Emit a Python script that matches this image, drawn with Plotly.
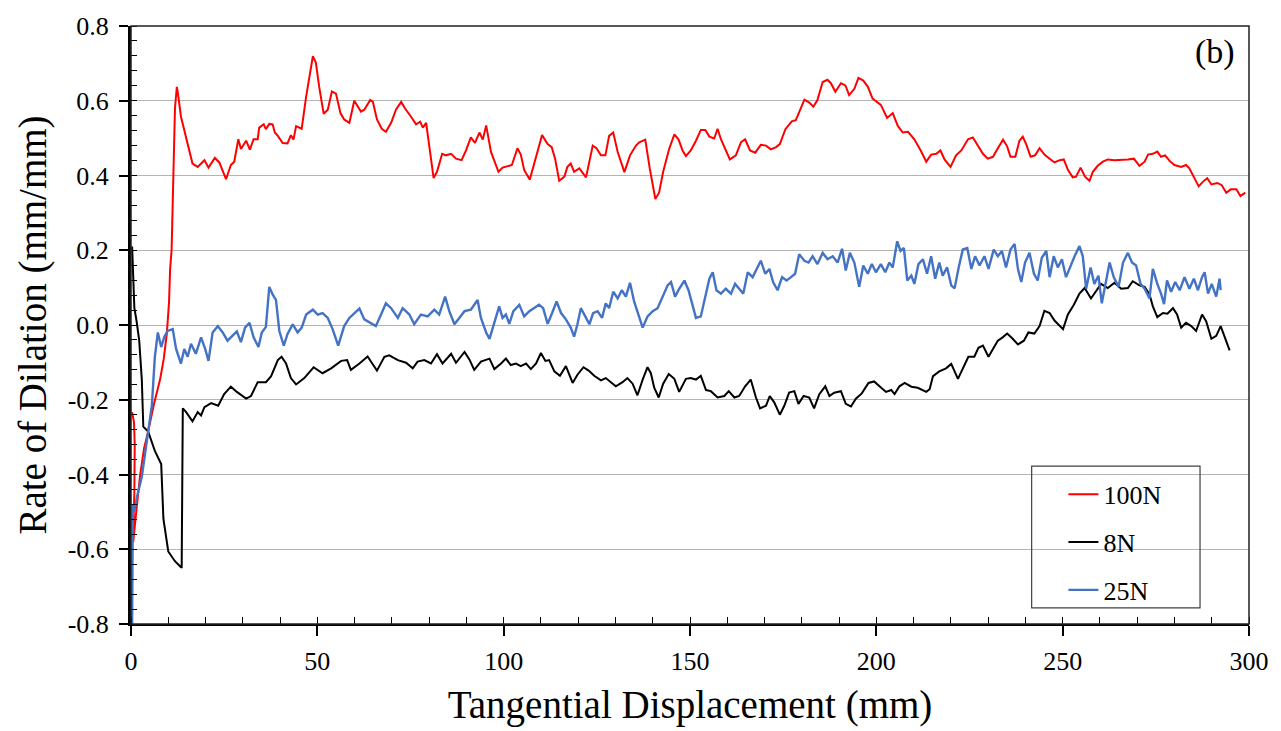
import plotly.graph_objects as go

# ---- data: rate of dilation vs tangential displacement ----
x_100N = [0.3, 0.8, 1.0, 0.9, 0.6, 0.6, 1.2, 2.4, 3.5, 4.6, 6.2, 7.8, 8.8, 9.6, 10.2, 10.5, 10.9,
          11.2, 11.5, 11.8, 12.3, 12.6, 13.4, 14.1, 15.4, 16.5, 17.9, 19.7, 20.8, 22.5, 23.7, 25.5,
          26.8, 27.7, 28.8, 29.5, 30.9, 31.9, 32.9, 34.0, 34.4, 35.6, 36.2, 37.1, 38.0, 38.6, 39.4,
          40.7, 42.0, 42.9, 43.6, 44.3, 45.8, 47.0, 48.8, 49.6, 50.5, 51.7, 52.8, 53.9, 55.0, 56.2,
          57.2, 58.6, 59.9, 61.7, 62.6, 64.2, 64.9, 66.0, 67.3, 68.4, 69.8, 71.1, 72.5, 73.5, 75.1,
          76.5, 77.6, 78.3, 79.2, 80.1, 81.2, 82.1, 83.5, 84.5, 85.9, 87.2, 88.7, 89.9, 91.2, 92.3,
          93.5, 94.4, 95.3, 96.6, 97.5, 98.6, 99.7, 100.6, 102.2, 103.7, 104.6, 105.5, 107.0, 108.2,
          109.4, 110.3, 111.8, 112.9, 113.8, 114.9, 116.3, 117.1, 118.0, 118.9, 120.3, 122.1, 123.9,
          124.9, 126.1, 127.3, 128.3, 129.4, 130.6, 132.4, 133.9, 135.5, 136.4, 138.0, 139.2, 140.7,
          141.7, 142.8, 144.4, 145.8, 146.9, 148.0, 148.9, 150.2, 151.6, 152.9, 154.1, 155.2, 156.5,
          157.4, 158.3, 159.5, 160.7, 162.3, 163.7, 164.8, 166.1, 167.5, 169.0, 170.4, 171.7, 173.1,
          174.1, 175.6, 177.3, 178.4, 179.5, 180.7, 182.0, 183.1, 184.2, 185.6, 186.9, 187.8, 189.0,
          190.5, 191.7, 192.7, 194.1, 195.2, 196.5, 197.7, 199.0, 201.2, 202.9, 204.4, 205.8, 207.1,
          208.5, 210.2, 211.9, 213.4, 214.7, 216.1, 217.2, 218.3, 219.9, 221.4, 222.8, 224.6, 225.9,
          227.2, 228.6, 229.9, 231.3, 232.8, 234.0, 235.1, 236.0, 237.3, 238.4, 239.3, 240.2, 241.4,
          242.6, 243.8, 245.1, 246.5, 247.8, 249.2, 250.3, 251.4, 252.7, 253.6, 254.8, 256.0, 257.2,
          258.1, 259.4, 260.8, 262.1, 263.9, 265.7, 267.5, 269.1, 270.6, 272.0, 272.9, 274.2, 275.4,
          276.4, 277.5, 278.7, 280.0, 281.8, 283.1, 284.0, 285.4, 286.5, 287.6, 288.8, 289.9, 291.5,
          292.7, 293.9, 295.1, 296.6, 297.7, 299.0]
y_100N = [-0.233, -0.26, -0.32, -0.45, -0.55, -0.58, -0.52, -0.406, -0.33, -0.285, -0.21, -0.146,
          -0.09, -0.024, 0.06, 0.15, 0.202, 0.306, 0.45, 0.58, 0.637, 0.62, 0.558, 0.528, 0.476,
          0.432, 0.423, 0.441, 0.421, 0.447, 0.435, 0.390, 0.428, 0.437, 0.497, 0.471, 0.493, 0.469,
          0.497, 0.497, 0.528, 0.537, 0.524, 0.538, 0.537, 0.515, 0.506, 0.487, 0.486, 0.508, 0.496,
          0.532, 0.525, 0.611, 0.719, 0.702, 0.637, 0.565, 0.576, 0.625, 0.619, 0.567, 0.550, 0.541,
          0.600, 0.571, 0.576, 0.602, 0.597, 0.550, 0.525, 0.517, 0.541, 0.576, 0.597, 0.580, 0.558,
          0.537, 0.544, 0.528, 0.541, 0.480, 0.393, 0.410, 0.458, 0.454, 0.458, 0.445, 0.441, 0.467,
          0.502, 0.487, 0.515, 0.496, 0.534, 0.463, 0.441, 0.410, 0.421, 0.423, 0.428, 0.473, 0.456,
          0.415, 0.389, 0.432, 0.476, 0.508, 0.484, 0.476, 0.445, 0.386, 0.397, 0.423, 0.432, 0.410,
          0.419, 0.395, 0.480, 0.473, 0.454, 0.454, 0.506, 0.515, 0.463, 0.409, 0.454, 0.480, 0.489,
          0.496, 0.419, 0.337, 0.354, 0.410, 0.471, 0.510, 0.497, 0.467, 0.452, 0.467, 0.493, 0.522,
          0.522, 0.504, 0.499, 0.525, 0.497, 0.471, 0.443, 0.454, 0.489, 0.497, 0.467, 0.461, 0.482,
          0.480, 0.470, 0.476, 0.484, 0.524, 0.545, 0.548, 0.576, 0.603, 0.595, 0.584, 0.602, 0.650,
          0.656, 0.647, 0.624, 0.647, 0.641, 0.615, 0.632, 0.661, 0.654, 0.638, 0.606, 0.589, 0.554,
          0.567, 0.532, 0.515, 0.517, 0.497, 0.467, 0.437, 0.456, 0.458, 0.467, 0.443, 0.423, 0.454,
          0.467, 0.497, 0.502, 0.480, 0.458, 0.445, 0.450, 0.476, 0.496, 0.478, 0.450, 0.450, 0.493,
          0.504, 0.484, 0.450, 0.454, 0.473, 0.456, 0.445, 0.435, 0.441, 0.443, 0.415, 0.395, 0.397,
          0.421, 0.397, 0.386, 0.410, 0.426, 0.437, 0.443, 0.441, 0.441, 0.443, 0.445, 0.426, 0.437,
          0.456, 0.458, 0.464, 0.450, 0.454, 0.439, 0.428, 0.423, 0.428, 0.419, 0.393, 0.371, 0.383,
          0.393, 0.376, 0.380, 0.374, 0.354, 0.363, 0.363, 0.345, 0.354]

x_8N = [0.3, 0.6, 0.9, 1.5, 2.2, 2.9, 3.3, 4.6, 6.4, 8.1, 8.7, 10.0, 11.8, 13.4, 13.6, 13.9, 14.8,
        16.5, 17.9, 18.8, 19.7, 21.5, 23.4, 25.0, 26.8, 28.4, 30.9, 32.2, 34.0, 36.2, 37.6, 39.4,
        40.4, 41.6, 42.9, 44.3, 46.5, 49.0, 51.4, 53.7, 56.4, 58.0, 59.0, 61.3, 63.5, 64.6, 66.0,
        68.0, 69.3, 71.6, 73.8, 75.6, 76.9, 78.7, 80.5, 82.1, 83.6, 85.9, 87.2, 89.5, 90.8, 92.1,
        93.9, 96.2, 97.5, 99.3, 100.6, 101.9, 103.3, 104.6, 106.0, 107.3, 108.7, 110.0, 111.2,
        112.2, 113.6, 115.1, 116.7, 118.5, 119.8, 121.4, 122.8, 124.3, 126.1, 127.4, 130.1, 131.9,
        133.2, 134.6, 135.9, 137.3, 138.6, 139.5, 140.4, 141.6, 142.8, 144.3, 145.8, 147.1, 148.9,
        150.2, 151.6, 152.9, 154.3, 155.6, 157.4, 159.2, 160.4, 161.9, 163.2, 164.8, 166.3, 167.7,
        168.8, 170.4, 171.4, 172.6, 174.1, 175.3, 176.6, 178.0, 179.1, 180.5, 182.0, 183.3, 184.7,
        186.3, 187.4, 188.7, 190.5, 191.8, 193.2, 194.5, 196.1, 197.9, 199.4, 201.3, 202.6, 204.0,
        204.9, 206.2, 207.6, 209.4, 211.1, 213.4, 214.3, 215.2, 216.9, 218.7, 220.1, 221.9, 223.2,
        224.7, 226.3, 227.4, 228.6, 230.1, 231.3, 232.6, 233.9, 235.1, 236.4, 238.0, 239.6, 240.8,
        242.4, 243.8, 245.1, 246.5, 247.8, 250.1, 251.4, 253.0, 254.5, 255.9, 257.6, 259.0, 260.3,
        262.1, 263.9, 265.7, 267.5, 268.8, 270.6, 272.0, 273.3, 274.2, 275.4, 276.9, 278.1, 279.6,
        280.7, 281.8, 283.1, 284.5, 285.8, 287.4, 288.5, 289.9, 291.2, 292.4, 293.4, 294.8]
y_8N = [0.21, 0.13, 0.046, 0.01, -0.041, -0.146, -0.272, -0.285, -0.337, -0.372, -0.519, -0.606,
        -0.632, -0.648, -0.648, -0.223, -0.233, -0.258, -0.233, -0.242, -0.220, -0.209, -0.216,
        -0.185, -0.165, -0.179, -0.197, -0.190, -0.153, -0.153, -0.137, -0.094, -0.085, -0.103,
        -0.142, -0.159, -0.142, -0.113, -0.129, -0.116, -0.096, -0.094, -0.120, -0.103, -0.084,
        -0.101, -0.122, -0.085, -0.081, -0.094, -0.101, -0.116, -0.098, -0.094, -0.103, -0.078,
        -0.103, -0.077, -0.101, -0.072, -0.092, -0.120, -0.098, -0.090, -0.118, -0.103, -0.090,
        -0.107, -0.103, -0.110, -0.103, -0.118, -0.103, -0.075, -0.096, -0.094, -0.124, -0.136,
        -0.110, -0.155, -0.133, -0.113, -0.122, -0.136, -0.148, -0.142, -0.164, -0.153, -0.142,
        -0.157, -0.188, -0.146, -0.113, -0.129, -0.168, -0.194, -0.157, -0.131, -0.144, -0.179,
        -0.144, -0.142, -0.146, -0.136, -0.174, -0.177, -0.194, -0.190, -0.177, -0.194, -0.190,
        -0.164, -0.146, -0.194, -0.223, -0.216, -0.190, -0.207, -0.240, -0.216, -0.181, -0.177,
        -0.211, -0.190, -0.194, -0.223, -0.185, -0.164, -0.190, -0.181, -0.177, -0.211, -0.218,
        -0.197, -0.183, -0.155, -0.151, -0.168, -0.179, -0.174, -0.185, -0.164, -0.155, -0.165,
        -0.168, -0.179, -0.172, -0.137, -0.124, -0.116, -0.104, -0.144, -0.116, -0.085, -0.085,
        -0.061, -0.055, -0.085, -0.064, -0.042, -0.033, -0.023, -0.035, -0.052, -0.042, -0.020,
        -0.023, -0.003, 0.038, 0.032, 0.012, -0.011, 0.028, 0.054, 0.084, 0.099, 0.071, 0.093,
        0.110, 0.099, 0.113, 0.097, 0.099, 0.117, 0.106, 0.102, 0.082, 0.050, 0.021, 0.032, 0.030,
        0.045, 0.028, -0.007, 0.006, -0.003, -0.016, 0.028, 0.010, -0.037, -0.029, -0.003, -0.029,
        -0.068]

x_25N = [0.3, 0.3, 0.3, 0.5, 0.9, 1.6, 2.9, 4.2, 5.6, 6.4, 7.1, 7.2, 8.1, 8.9, 9.8, 11.2, 12.1,
         13.4, 14.3, 15.2, 16.1, 17.4, 18.8, 19.9, 20.8, 21.9, 23.3, 24.6, 25.9, 27.3, 28.4, 29.5,
         30.6, 31.8, 32.9, 34.2, 35.1, 36.2, 37.1, 38.0, 38.9, 39.8, 41.0, 42.0, 43.4, 44.7, 45.8,
         47.0, 48.8, 50.1, 51.4, 52.8, 54.1, 55.6, 57.2, 58.6, 59.9, 61.3, 62.6, 64.2, 65.7, 67.1,
         68.4, 69.8, 71.6, 72.9, 74.7, 76.0, 77.8, 79.6, 81.4, 82.7, 84.3, 85.4, 86.8, 88.1, 89.5,
         91.2, 93.0, 93.9, 95.3, 96.2, 97.5, 98.8, 99.7, 100.6, 101.5, 102.6, 104.2, 105.5, 106.9,
         108.2, 109.5, 110.6, 111.8, 113.0, 114.2, 115.4, 116.7, 118.0, 118.9, 119.8, 120.7, 121.9,
         123.0, 124.0, 125.2, 126.4, 127.4, 128.3, 129.4, 130.6, 131.7, 132.8, 133.9, 135.0, 136.2,
         137.3, 138.6, 140.0, 141.3, 142.6, 144.0, 144.9, 146.0, 147.1, 148.5, 149.6, 150.7, 151.6,
         152.9, 154.1, 155.2, 156.1, 157.1, 158.3, 159.6, 161.0, 162.1, 163.2, 164.3, 165.5, 166.8,
         167.9, 169.0, 170.2, 171.3, 172.3, 173.5, 174.7, 175.9, 177.1, 178.2, 179.3, 180.7, 181.8,
         182.9, 184.2, 185.6, 186.9, 188.3, 189.6, 190.8, 191.8, 192.9, 194.1, 195.4, 196.5, 197.7,
         198.8, 199.9, 201.2, 202.4, 203.5, 204.4, 205.6, 206.5, 207.4, 208.3, 209.4, 210.2, 211.3,
         212.5, 213.6, 214.7, 215.8, 216.9, 217.8, 219.0, 220.1, 221.0, 222.1, 223.2, 224.4, 225.5,
         226.5, 227.7, 229.0, 230.1, 231.5, 232.6, 233.7, 234.8, 236.0, 237.1, 238.0, 238.9, 239.9,
         241.1, 242.3, 243.3, 244.4, 245.6, 246.5, 247.6, 248.7, 249.8, 250.9, 252.1, 253.2, 254.5,
         255.4, 256.3, 257.5, 258.5, 259.6, 260.5, 261.4, 262.6, 263.7, 265.0, 266.2, 267.5, 268.6,
         269.7, 270.9, 272.0, 273.3, 274.2, 275.4, 276.4, 277.2, 278.0, 279.1, 280.2, 281.4, 282.7,
         284.0, 285.2, 286.3, 287.4, 288.1, 289.0, 290.0, 291.2, 292.1, 292.4]
y_25N = [-0.80, -0.65, -0.493, -0.48, -0.50, -0.46, -0.406, -0.311, -0.215, -0.085, -0.024, -0.020,
         -0.059, -0.033, -0.016, -0.011, -0.064, -0.103, -0.064, -0.085, -0.050, -0.077, -0.033,
         -0.064, -0.096, -0.020, -0.003, -0.020, -0.042, -0.029, -0.017, -0.046, -0.007, 0.006,
         -0.033, -0.059, -0.020, -0.005, 0.102, 0.082, 0.067, -0.016, -0.055, -0.024, 0.002, -0.020,
         -0.007, 0.028, 0.041, 0.028, 0.032, 0.019, -0.011, -0.055, -0.003, 0.019, 0.032, 0.044,
         0.015, 0.006, -0.003, 0.028, 0.058, 0.045, 0.019, 0.045, 0.028, 0.002, 0.028, 0.023, 0.041,
         0.028, 0.076, 0.037, 0.002, 0.019, 0.037, 0.041, 0.067, 0.019, -0.020, -0.037, 0.010, 0.050,
         0.019, 0.028, 0.003, 0.037, 0.054, 0.023, 0.037, 0.045, 0.054, 0.045, 0.003, 0.032, 0.063,
         0.032, 0.015, -0.007, -0.031, 0.002, 0.045, 0.023, 0.002, 0.032, 0.037, 0.019, 0.058, 0.045,
         0.089, 0.071, 0.093, 0.076, 0.113, 0.063, 0.028, -0.007, 0.023, 0.037, 0.045, 0.076, 0.106,
         0.115, 0.076, 0.097, 0.119, 0.093, 0.054, 0.019, 0.023, 0.080, 0.124, 0.141, 0.093, 0.084,
         0.097, 0.084, 0.110, 0.097, 0.084, 0.141, 0.128, 0.150, 0.172, 0.137, 0.150, 0.115, 0.093,
         0.128, 0.119, 0.128, 0.137, 0.189, 0.172, 0.167, 0.184, 0.163, 0.193, 0.176, 0.184, 0.167,
         0.204, 0.146, 0.193, 0.167, 0.102, 0.159, 0.137, 0.163, 0.141, 0.163, 0.141, 0.167, 0.154,
         0.224, 0.198, 0.206, 0.119, 0.132, 0.110, 0.163, 0.176, 0.137, 0.184, 0.124, 0.167, 0.132,
         0.154, 0.106, 0.098, 0.154, 0.202, 0.206, 0.150, 0.184, 0.159, 0.184, 0.150, 0.202, 0.184,
         0.198, 0.154, 0.202, 0.217, 0.150, 0.115, 0.167, 0.193, 0.137, 0.119, 0.180, 0.198, 0.128,
         0.184, 0.154, 0.176, 0.128, 0.159, 0.184, 0.211, 0.184, 0.097, 0.154, 0.110, 0.132, 0.058,
         0.106, 0.167, 0.128, 0.102, 0.167, 0.193, 0.167, 0.159, 0.110, 0.097, 0.071, 0.150, 0.110,
         0.084, 0.056, 0.119, 0.089, 0.115, 0.093, 0.128, 0.097, 0.124, 0.093, 0.128, 0.141, 0.084,
         0.110, 0.076, 0.124, 0.093]

x_ticks = [0, 50, 100, 150, 200, 250, 300]
y_ticks = [-0.8, -0.6, -0.4, -0.2, 0.0, 0.2, 0.4, 0.6, 0.8]
y_tick_text = ["-0.8", "-0.6", "-0.4", "-0.2", "0.0", "0.2", "0.4", "0.6", "0.8"]

FONT = "Liberation Serif"


def serif(size):
    return dict(family=FONT, size=size, color="black")


fig = go.Figure()
fig.add_trace(go.Scatter(x=x_100N, y=y_100N, mode="lines", name="100N",
                         line=dict(color="#ff0000", width=2), legendgroup="a"))
fig.add_trace(go.Scatter(x=x_8N, y=y_8N, mode="lines", name="8N",
                         line=dict(color="#000000", width=2), legendgroup="b"))
fig.add_trace(go.Scatter(x=x_25N, y=y_25N, mode="lines", name="25N",
                         line=dict(color="#4472c4", width=2.4), legendgroup="c"))

fig.update_layout(
    width=1281, height=731,
    margin=dict(l=131, r=32, t=21, b=97),
    paper_bgcolor="white", plot_bgcolor="white",
    font=serif(26),
    showlegend=True,
    legend=dict(x=0.834, y=0.256, xanchor="left", yanchor="top",
                bgcolor="rgba(0,0,0,0)", borderwidth=0,
                font=serif(26), tracegroupgap=11, itemwidth=30),
    xaxis=dict(range=[0, 300], tickmode="array", tickvals=x_ticks,
               ticktext=[str(v) for v in x_ticks],
               ticks="outside", ticklen=10, tickwidth=1.5, tickcolor="black",
               minor=dict(dtick=10, tick0=0, ticks="inside", ticklen=7,
                          tickwidth=1.3, tickcolor="black", showgrid=False),
               showline=True, linecolor="black", linewidth=1.5,
               showgrid=False, zeroline=False, ticklabelstandoff=3,
               tickfont=serif(26),
               title=dict(text="Tangential Displacement (mm)", font=serif(39),
                          standoff=16)),
    yaxis=dict(range=[-0.8, 0.8], tickmode="array", tickvals=y_ticks,
               ticktext=y_tick_text,
               ticks="outside", ticklen=9, tickwidth=1.5, tickcolor="black",
               minor=dict(dtick=0.04, tick0=0, ticks="inside", ticklen=6,
                          tickwidth=1.3, tickcolor="black", showgrid=False),
               showline=True, linecolor="black", linewidth=3,
               showgrid=True, gridcolor="#b4b4b4", gridwidth=1.3,
               zeroline=False, ticklabelstandoff=5, tickfont=serif(26),
               title=dict(text="Rate of Dilation (mm/mm)", font=serif(39),
                          standoff=9)),
    xaxis2=dict(range=[0, 300], overlaying="x", anchor="y", side="bottom",
                tickmode="array", tickvals=x_ticks, ticks="inside", ticklen=7,
                tickwidth=1.5, tickcolor="black", showticklabels=False,
                showgrid=False, zeroline=False, showline=False),
    yaxis2=dict(range=[-0.8, 0.8], overlaying="y", anchor="x", side="left",
                tickmode="array", tickvals=y_ticks, ticks="inside", ticklen=7,
                tickwidth=1.5, tickcolor="black", showticklabels=False,
                showgrid=False, zeroline=False, showline=False),
)

# plot frame (top and right edges)
fig.add_shape(type="rect", xref="x domain", yref="y domain", x0=0, x1=1, y0=0, y1=1,
              line=dict(color="#222222", width=1.5), layer="above")
# legend frame
fig.add_shape(type="rect", xref="x domain", yref="y domain",
              x0=0.8056, x1=0.9562, y0=0.0271, y1=0.264,
              line=dict(color="#404040", width=1.2), layer="above")

fig.add_annotation(text="(b)", xref="x domain", yref="y domain", x=0.970, y=0.956,
                   xanchor="center", yanchor="middle", showarrow=False,
                   font=serif(34))

fig.write_html("out.html")
